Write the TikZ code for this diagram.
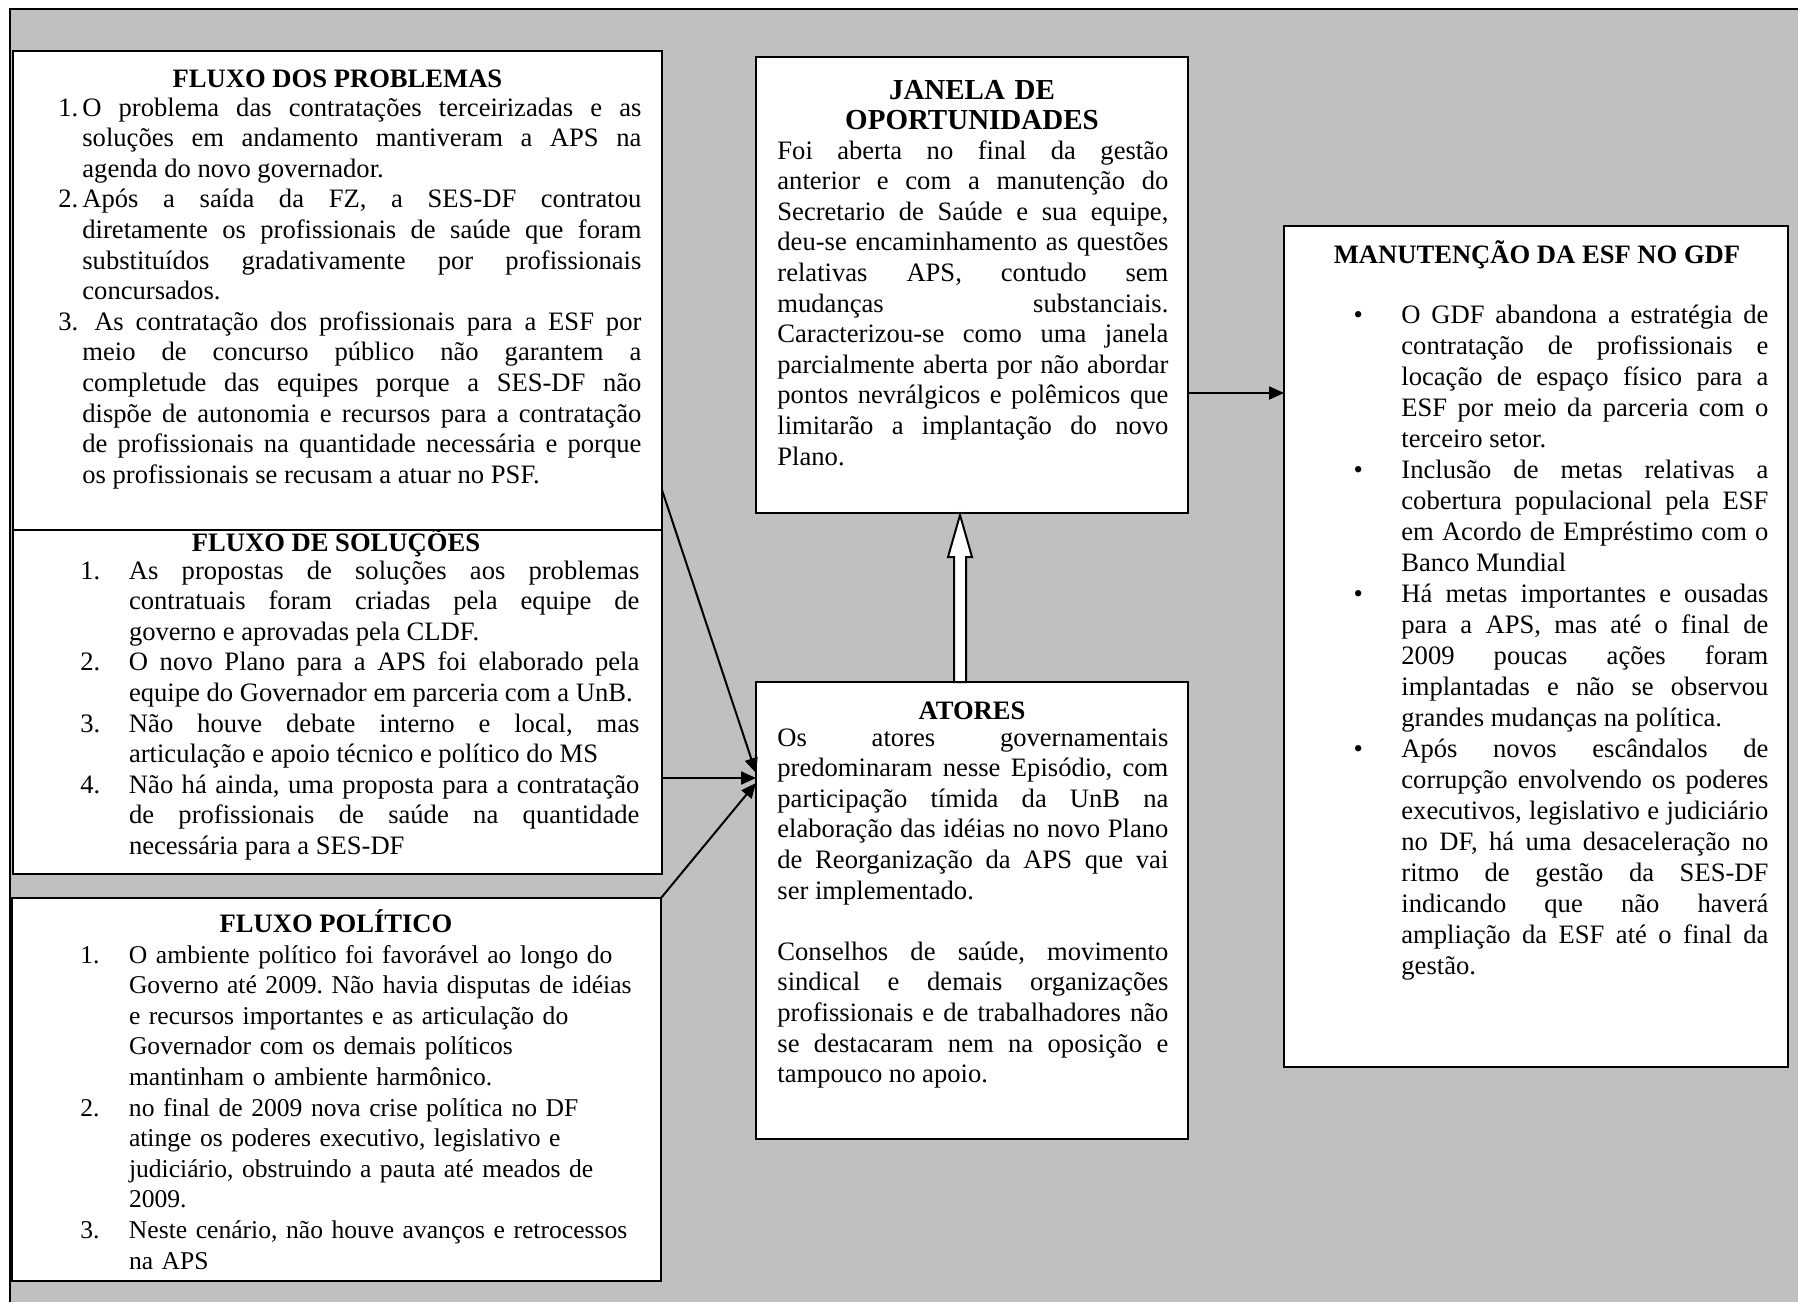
\documentclass[tikz,border=0pt]{standalone}
\usepackage{fontspec}
\setmainfont{Liberation Serif}
\usetikzlibrary{positioning,calc,arrows.meta}
\definecolor{cinza}{RGB}{192,192,192}
\frenchspacing
\tolerance=10000
\hyphenpenalty=10000
\exhyphenpenalty=10000
\newcommand{\itemnum}[3]{\hangindent=#1\hangafter=1\makebox[#1][l]{#2}#3\par}
\newcommand{\itembola}[1]{\leavevmode\llap{\textbullet\hspace{19.2pt}}#1\par}

\begin{document}
\begin{tikzpicture}[
  x=0.5pt, y=-0.5pt,
  caixa/.style={draw, line width=1.3pt, fill=white, inner sep=0pt, outer sep=0pt},
  titulo/.style={font=\fontsize{13.3}{15.3}\selectfont\bfseries, inner sep=0pt, anchor=base},
  texto/.style={font=\fontsize{13.3}{15.3}\selectfont, inner sep=0pt, anchor=base west, align=justify},
  seta/.style={draw, line width=1pt, -{Triangle[length=7.5pt,width=6.5pt]}},
  bloco/.style={draw, line width=1pt, fill=white}
]
\useasboundingbox (0,0) rectangle (1798,1301);
\clip (0,0) rectangle (1798,1301);
\fill[white] (0,0) rectangle (1798,1301);
\filldraw[fill=cinza, draw=black, line width=1.2pt] (10,9) rectangle (1850,1350);

\node[caixa, anchor=north west, minimum width=324.5pt, minimum height=172pt] (solucoes) at (13,530) {};
\node[titulo] (solucoes-titulo) at (336,551) {FLUXO DE SOLUÇÕES};
\node[texto, text width=279.5pt] (solucoes-texto) at (80,579) {%
\itemnum{24.3pt}{1.}{As propostas de soluções aos problemas\linebreak contratuais foram criadas pela equipe de\linebreak governo e aprovadas pela CLDF.}
\itemnum{24.3pt}{2.}{O novo Plano para a APS foi elaborado pela\linebreak equipe do Governador em parceria com a UnB.}
\itemnum{24.3pt}{3.}{Não houve debate interno e local, mas\linebreak articulação e apoio técnico e político do MS}
\itemnum{24.3pt}{4.}{Não há ainda, uma proposta para a contratação\linebreak de profissionais de saúde na quantidade\linebreak necessária para a SES-DF}};

\node[caixa, above=0pt of solucoes, minimum width=324.5pt, minimum height=239.5pt] (problemas) {};
\node[titulo] (problemas-titulo) at (337.5,87) {FLUXO DOS PROBLEMAS};
\node[texto, text width=291.5pt] (problemas-texto) at (58,116) {%
\itemnum{12pt}{1.}{O problema das contratações terceirizadas e as\linebreak soluções em andamento mantiveram a APS na\linebreak agenda do novo governador.}
\itemnum{12pt}{2.}{Após a saída da FZ, a SES-DF contratou\linebreak diretamente os profissionais de saúde que foram\linebreak substituídos gradativamente por profissionais\linebreak concursados.}
\itemnum{12pt}{3.}{\ As contratação dos profissionais para a ESF por\linebreak meio de concurso público não garantem a\linebreak completude das equipes porque a SES-DF não\linebreak dispõe de autonomia e recursos para a contratação\linebreak de profissionais na quantidade necessária e porque\linebreak os profissionais se recusam a atuar no PSF.}};

\node[caixa, anchor=north west, minimum width=324.5pt, minimum height=191.5pt] (politico) at (12,898) {};
\node[titulo] (politico-titulo) at (336,932) {FLUXO POLÍTICO};
\node[texto, font=\fontsize{12.8}{15.3}\selectfont, align=left, text width=300pt] (politico-texto) at (80,963) {%
\itemnum{24.3pt}{1.}{O ambiente político foi favorável ao longo do\newline Governo até 2009. Não havia disputas de idéias\newline e recursos importantes e as articulação do\newline Governador com os demais políticos\newline mantinham o ambiente harmônico.}
\itemnum{24.3pt}{2.}{no final de 2009 nova crise política no DF\newline atinge os poderes executivo, legislativo e\newline judiciário, obstruindo a pauta até meados de\newline 2009.}
\itemnum{24.3pt}{3.}{Neste cenário, não houve avanços e retrocessos\newline na APS}};

\node[caixa, anchor=north west, minimum width=216pt, minimum height=228pt] (janela) at (756,57) {};
\node[titulo, font=\fontsize{14.5}{15}\selectfont\bfseries, text width=210pt, align=center] (janela-titulo) at (972,99) {JANELA DE\\OPORTUNIDADES};
\node[texto, text width=195.5pt] (janela-texto) at (777,159) {Foi aberta no final da gestão\linebreak anterior e com a manutenção do\linebreak Secretario de Saúde e sua equipe,\linebreak deu-se encaminhamento as questões\linebreak relativas APS, contudo sem\linebreak mudanças substanciais.\linebreak Caracterizou-se como uma janela\linebreak parcialmente aberta por não abordar\linebreak pontos nevrálgicos e polêmicos que\linebreak limitarão a implantação do novo\linebreak Plano.};

\node[caixa, below=84.5pt of janela, minimum width=216pt, minimum height=228.5pt] (atores) {};
\node[titulo] (atores-titulo) at (972,719) {ATORES};
\node[texto, text width=195.5pt] (atores-texto) at (777,746) {Os atores governamentais\linebreak predominaram nesse Episódio, com\linebreak participação tímida da UnB na\linebreak elaboração das idéias no novo Plano\linebreak de Reorganização da APS que vai\linebreak ser implementado.\par\mbox{}\par Conselhos de saúde, movimento\linebreak sindical e demais organizações\linebreak profissionais e de trabalhadores não\linebreak se destacaram nem na oposição e\linebreak tampouco no apoio.};

\node[caixa, anchor=north west, minimum width=252pt, minimum height=420.5pt] (manutencao) at (1284,226) {};
\node[titulo] (manutencao-titulo) at (1537,263.5) {MANUTENÇÃO DA ESF NO GDF};
\node[texto, font=\fontsize{13.3}{15.5}\selectfont, text width=183.5pt] (manutencao-texto) at (1401,323) {%
\itembola{O GDF abandona a estratégia de\linebreak contratação de profissionais e\linebreak locação de espaço físico para a\linebreak ESF por meio da parceria com o\linebreak terceiro setor.}
\itembola{Inclusão de metas relativas a\linebreak cobertura populacional pela ESF\linebreak em Acordo de Empréstimo com o\linebreak Banco Mundial}
\itembola{Há metas importantes e ousadas\linebreak para a APS, mas até o final de\linebreak 2009 poucas ações foram\linebreak implantadas e não se observou\linebreak grandes mudanças na política.}
\itembola{Após novos escândalos de\linebreak corrupção envolvendo os poderes\linebreak executivos, legislativo e judiciário\linebreak no DF, há uma desaceleração no\linebreak ritmo de gestão da SES-DF\linebreak indicando que não haverá\linebreak ampliação da ESF até o final da\linebreak gestão.}};

\coordinate (entrada) at ($(atores.north west)+(0,96)$);
\draw[seta] ($(problemas.south east)+(0,-40)$) -- ($(entrada)+(0,-5)$);
\draw[seta] (solucoes.east |- entrada) -- (entrada);
\draw[seta] (politico.north east) -- ($(entrada)+(0,5)$);
\coordinate (saida) at ($(janela.north east)+(0,336)$);
\draw[seta] (saida) -- (manutencao.west |- saida);
\draw[bloco] ($(janela.south)+(-12,2)$) -- ++(12,42) -- ++(-6,0) coordinate (haste) -- (haste |- atores.north) -- ++(-12,0) coordinate (haste2) -- (haste2 |- haste) -- ++(-6,0) -- cycle;
\end{tikzpicture}
\end{document}
